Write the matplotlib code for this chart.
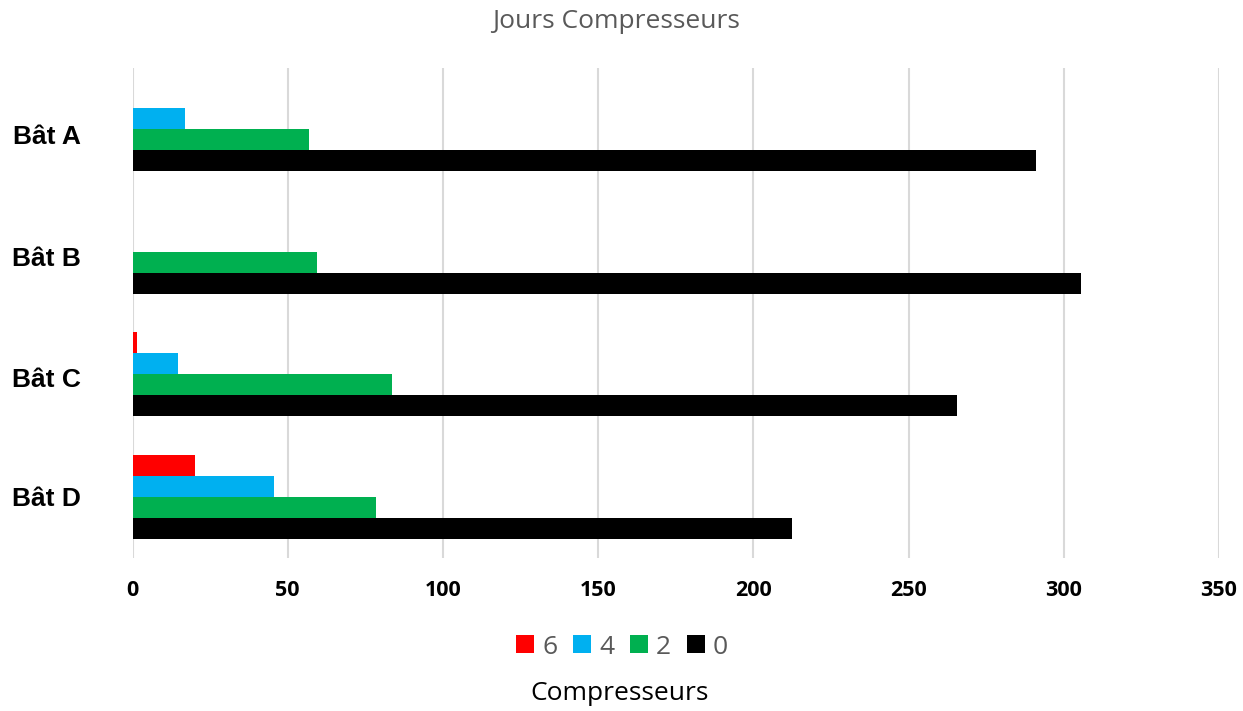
import matplotlib
matplotlib.use("Agg")
import matplotlib.pyplot as plt
from matplotlib.patches import Patch
from matplotlib.transforms import ScaledTranslation
import numpy as np

categories = ["Bât A", "Bât B", "Bât C", "Bât D"]
series_names = ["6", "4", "2", "0"]
vals_6 = [0, 0, 1.3, 20]
vals_4 = [17, 0, 14.5, 45.5]
vals_2 = [57, 59.5, 83.5, 78.5]
vals_0 = [291.2, 305.7, 265.5, 212.3]
colors = ["#FF0000", "#00B0F0", "#00B050", "#000000"]
xticks = [0, 50, 100, 150, 200, 250, 300, 350]

W, H = 1243, 711
fig = plt.figure(figsize=(W / 100, H / 100), dpi=100)
ax = fig.add_axes([132.5 / W, 1 - 558 / H, (1219 - 132.5) / W, (558 - 68) / H])

y = np.arange(len(categories))
h = 21 / 122.5
all_vals = [vals_6, vals_4, vals_2, vals_0]
offsets = [-1.5, -0.5, 0.5, 1.5]
for vals, off, c, name in zip(all_vals, offsets, colors, series_names):
    ax.barh(y + off * h, vals, height=h, color=c, label=name, zorder=3)

ax.set_ylim(len(categories) - 0.5, -0.5)
ax.set_xlim(0, 350)
ax.set_xticks(xticks)
ax.set_xticklabels([str(t) for t in xticks], fontfamily="Open Sans",
                   fontweight="bold", fontsize=15.5)
ax.set_yticks(y)
ax.set_yticklabels(categories, fontfamily="Liberation Sans", fontweight="bold",
                   fontsize=19)
ax.tick_params(axis="y", length=0, pad=37.5)
ax.tick_params(axis="x", length=0, pad=16)
shifts_px = [5, 5, 3, 0]
for lbl, s in zip(ax.get_yticklabels(), shifts_px):
    lbl.set_transform(lbl.get_transform() + ScaledTranslation(0, -s / 100, fig.dpi_scale_trans))
for s in ax.spines.values():
    s.set_visible(False)
ax.grid(axis="x", color="#D9D9D9", linewidth=1.5, zorder=0)
ax.set_axisbelow(True)

fig.text(616 / W, 1 - 22 / H, "Jours Compresseurs", ha="center", va="center",
         fontfamily="Open Sans", fontsize=19, color="#595959")
fig.text(620 / W, 1 - 693 / H, "Compresseurs", ha="center", va="center",
         fontfamily="Open Sans", fontsize=19, color="black")

handles = [Patch(facecolor=c, edgecolor="none") for c in colors]
leg = fig.legend(handles, series_names, loc="center", bbox_to_anchor=(622 / W, 1 - 647 / H),
                 ncol=4, frameon=False, handlelength=0.68, handleheight=0.68,
                 handletextpad=0.3, columnspacing=0.6,
                 prop={"family": "Open Sans", "size": 19})
for t in leg.get_texts():
    t.set_color("#595959")

fig.savefig("out.png", dpi=100)
